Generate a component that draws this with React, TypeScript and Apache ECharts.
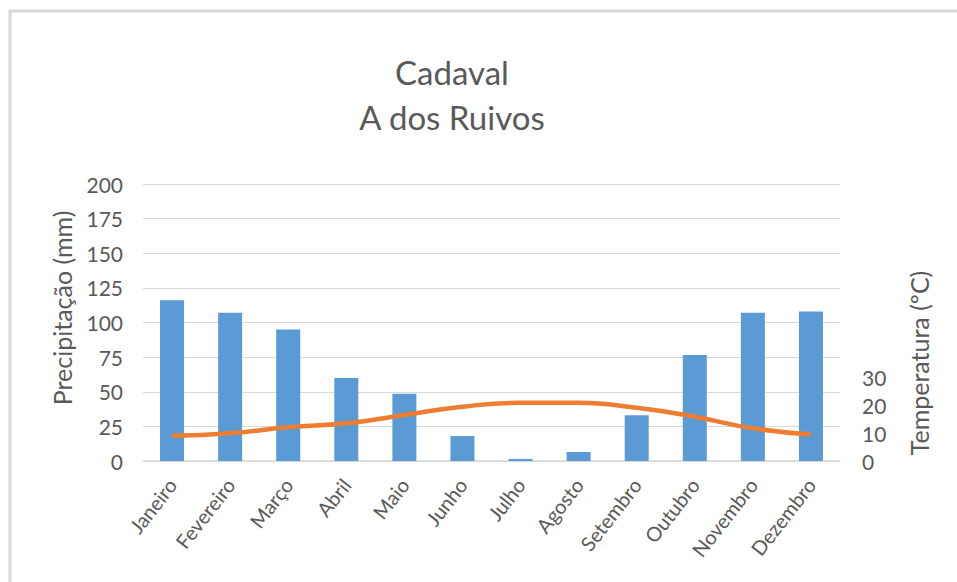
import React, { useEffect, useRef } from "react";
import * as echarts from "echarts";

const months = ["Janeiro", "Fevereiro", "Março", "Abril", "Maio", "Junho", "Julho", "Agosto", "Setembro", "Outubro", "Novembro", "Dezembro"];
const precipitation = [116, 107, 95, 60, 48.5, 18, 1.5, 6.5, 33, 76.5, 107, 108];
const temperature = [9.1, 10.0, 12.2, 13.6, 16.6, 19.6, 21.0, 21.0, 19.2, 16.0, 11.8, 9.6];
const titleLines = ["Cadaval", "A dos Ruivos"];
const leftAxisName = "Precipitação (mm)";
const rightAxisName = "Temperatura (ºC)";

const FONT = "Lato, 'Open Sans', sans-serif";
const GREY = "#595959";

export default function App() {
  const ref = useRef<HTMLDivElement>(null);
  useEffect(() => {
    if (!ref.current) return;
    const chart = echarts.init(ref.current, null, { renderer: "svg" });
    chart.setOption({
      animation: false,
      backgroundColor: "#ffffff",
      textStyle: { fontFamily: FONT },
      grid: { left: 143, right: 117, top: 184, bottom: 121, containLabel: false },
      xAxis: {
        type: "category",
        data: months,
        boundaryGap: true,
        axisTick: { show: false },
        axisLine: { lineStyle: { color: "#d9d9d9", width: 1.5 } },
        axisLabel: { rotate: 52, color: GREY, fontSize: 20, fontFamily: FONT, margin: 20, interval: 0 },
      },
      yAxis: [
        {
          type: "value",
          min: 0,
          max: 200,
          interval: 25,
          axisLine: { show: false },
          axisTick: { show: false },
          splitLine: { lineStyle: { color: "#d9d9d9", width: 1 } },
          axisLabel: { color: GREY, fontSize: 21, fontFamily: FONT, margin: 20 },
        },
        {
          type: "value",
          min: 0,
          max: 100,
          interval: 10,
          position: "right",
          axisLine: { show: false },
          axisTick: { show: false },
          splitLine: { show: false },
          axisLabel: {
            color: GREY,
            fontSize: 21,
            fontFamily: FONT,
            margin: 22,
            formatter: (v: number) => (v <= 30 ? String(v) : ""),
          },
        },
      ],
      series: [
        {
          type: "bar",
          data: precipitation,
          barWidth: 24,
          itemStyle: { color: "#5B9BD5" },
        },
        {
          type: "line",
          yAxisIndex: 1,
          data: temperature,
          smooth: true,
          symbol: "none",
          lineStyle: { color: "#ED7D31", width: 4.5 },
          z: 5,
        },
      ],
      graphic: [
        { type: "line", shape: { x1: 9, y1: 11, x2: 957, y2: 11 }, style: { stroke: "#d9d9d9", lineWidth: 3 } },
        { type: "line", shape: { x1: 10, y1: 10, x2: 10, y2: 582 }, style: { stroke: "#d9d9d9", lineWidth: 3 } },
        {
          type: "text",
          x: 452,
          y: 72,
          style: { text: titleLines[0], fill: GREY, font: `33px ${FONT}`, align: "center", verticalAlign: "middle" },
        },
        {
          type: "text",
          x: 452,
          y: 117,
          style: { text: titleLines[1], fill: GREY, font: `33px ${FONT}`, align: "center", verticalAlign: "middle" },
        },
        {
          type: "text",
          x: 62,
          y: 308,
          rotation: Math.PI / 2,
          style: { text: leftAxisName, fill: GREY, font: `25px ${FONT}`, align: "center", verticalAlign: "middle" },
        },
        {
          type: "text",
          x: 919,
          y: 363,
          rotation: Math.PI / 2,
          style: { text: rightAxisName, fill: GREY, font: `25px ${FONT}`, align: "center", verticalAlign: "middle" },
        },
      ],
    });
    return () => chart.dispose();
  }, []);
  return <div ref={ref} style={{ position: "fixed", left: 0, top: 0, width: 957, height: 582 }} />;
}
